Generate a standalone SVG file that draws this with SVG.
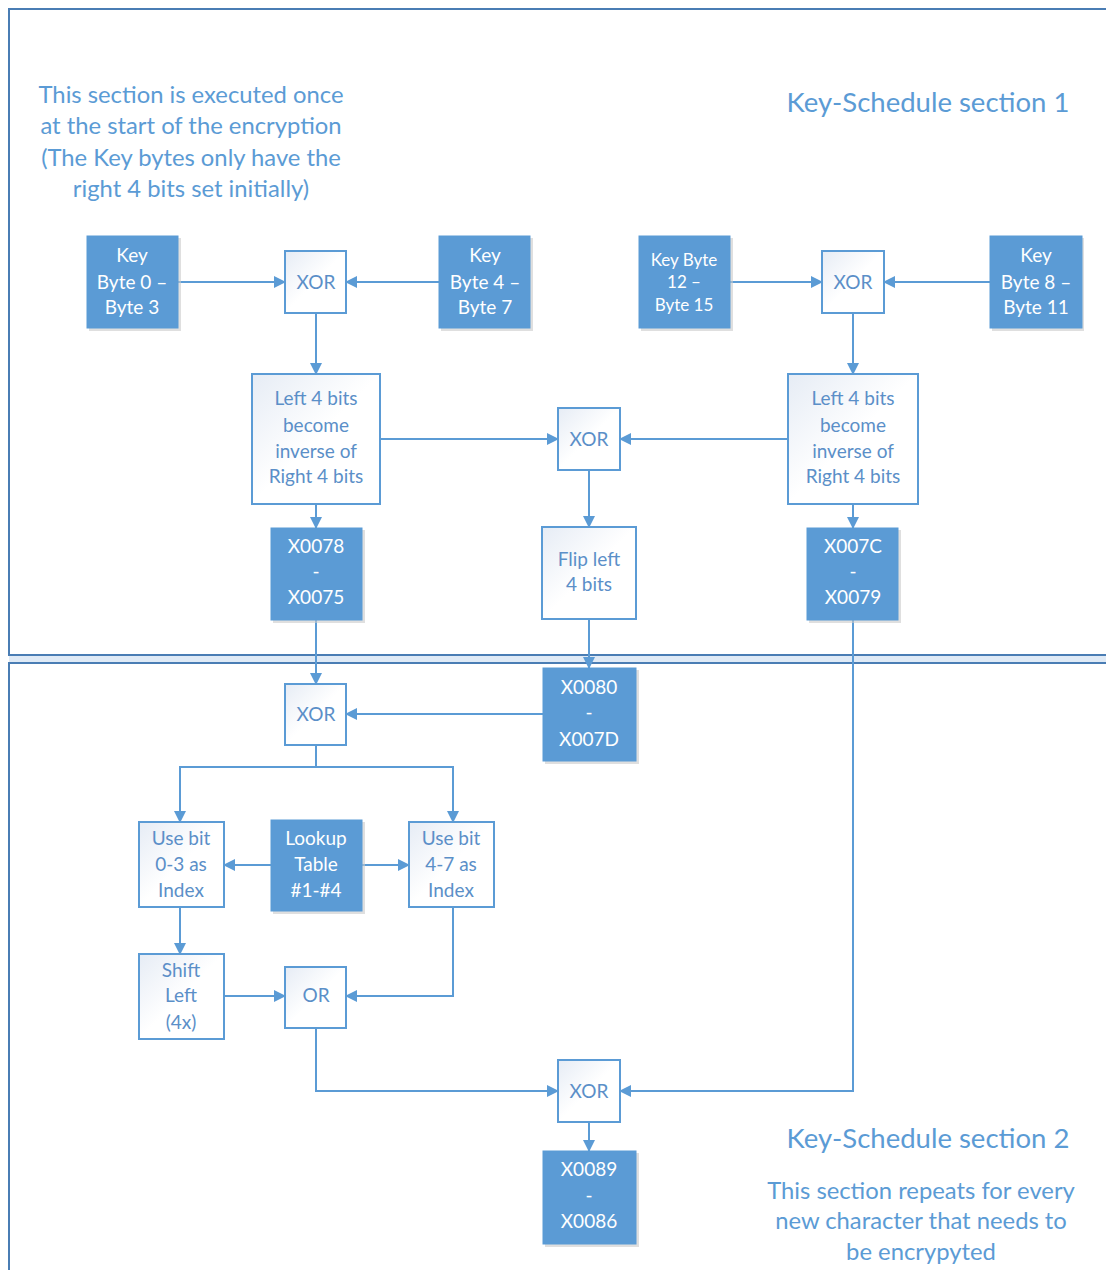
<svg xmlns="http://www.w3.org/2000/svg" width="1106" height="1270" viewBox="0 0 1106 1270">
<style>
  .sec{fill:none;stroke:#4a7db4;stroke-width:2}
  .wb{fill:url(#wg);stroke:#5b9bd5;stroke-width:2}
  .db{fill:#5b9bd5;stroke:#5b9bd5;stroke-width:1}
  .sh{fill:#c9c9c9;opacity:0.6}
  .t{font-family:Lato,"Open Sans","Liberation Sans",sans-serif;text-anchor:middle}
  .tw{fill:#5b8fc8;font-size:19px}
  .td{fill:#ffffff;font-size:19px}
  .ts{fill:#ffffff;font-size:17px}
  .ann{fill:#5b9bd5;font-size:23.8px}
  .ttl{fill:#5b9bd5;font-size:27.5px}
  .c{fill:none;stroke:#5b9bd5;stroke-width:2;marker-end:url(#ah)}
</style>
<defs>
  <linearGradient id="wg" x1="0" y1="0" x2="1" y2="1">
    <stop offset="0" stop-color="#e6ecf5"/>
    <stop offset="0.5" stop-color="#ffffff"/>
    <stop offset="1" stop-color="#ffffff"/>
  </linearGradient>
  <marker id="ah" markerWidth="12" markerHeight="12" refX="11" refY="6" orient="auto" markerUnits="userSpaceOnUse">
    <path d="M0,0 L12,6 L0,12 Z" fill="#5b9bd5"/>
  </marker>
</defs>
<rect x="0" y="0" width="1106" height="1270" fill="#ffffff"/>
<g id="sections">
  <rect x="9" y="656" width="1100" height="7" fill="#dfeaf6"/>
  <rect class="sec" x="9" y="9" width="1110" height="646"/>
  <rect class="sec" x="9" y="663" width="1110" height="620"/>
</g>
<g id="annotations">
  <text class="t ann" x="191" y="103">This section is executed once</text>
  <text class="t ann" x="191" y="134">at the start of the encryption</text>
  <text class="t ann" x="191" y="166">(The Key bytes only have the</text>
  <text class="t ann" x="191" y="197">right 4 bits set initially)</text>
  <text class="t ttl" x="928" y="112">Key-Schedule section 1</text>
  <text class="t ttl" x="928" y="1148">Key-Schedule section 2</text>
  <text class="t ann" x="921" y="1199">This section repeats for every</text>
  <text class="t ann" x="921" y="1229">new character that needs to</text>
  <text class="t ann" x="921" y="1260">be encrypyted</text>
</g>
<g id="connectors">
  <path class="c" d="M178,282 H285"/>
  <path class="c" d="M439,282 H346"/>
  <path class="c" d="M730,282 H822"/>
  <path class="c" d="M990,282 H884"/>
  <path class="c" d="M316,313 V374"/>
  <path class="c" d="M853,313 V374"/>
  <path class="c" d="M380,439 H558"/>
  <path class="c" d="M788,439 H620"/>
  <path class="c" d="M589,470 V527"/>
  <path class="c" d="M316,504 V528"/>
  <path class="c" d="M853,504 V528"/>
  <path class="c" d="M316,620 V684"/>
  <path class="c" d="M589,619 V668"/>
  <path class="c" d="M543,714 H346"/>
  <path class="c" d="M316,745 V767 H180 V822"/>
  <path class="c" d="M316,767 H453 V822"/>
  <path class="c" d="M271,865 H224"/>
  <path class="c" d="M362,865 H409"/>
  <path class="c" d="M180,907 V954"/>
  <path class="c" d="M224,996 H285"/>
  <path class="c" d="M453,907 V996 H346"/>
  <path class="c" d="M316,1028 V1091 H558"/>
  <path class="c" d="M853,620 V1091 H620"/>
  <path class="c" d="M589,1122 V1151"/>
</g>
<g id="key0">
  <rect class="sh" x="89" y="238" width="92" height="93"/>
  <rect class="db" x="87" y="236" width="91" height="92"/>
  <text class="t td" x="132" y="262">Key</text>
  <text class="t td" x="132" y="289">Byte 0 –</text>
  <text class="t td" x="132" y="314">Byte 3</text>
</g>
<g id="xor1">
  <rect class="wb" x="285" y="251" width="61" height="62"/>
  <text class="t tw" x="316" y="289">XOR</text>
</g>
<g id="key4">
  <rect class="sh" x="441" y="238" width="92" height="93"/>
  <rect class="db" x="439" y="236" width="91" height="92"/>
  <text class="t td" x="485" y="262">Key</text>
  <text class="t td" x="485" y="289">Byte 4 –</text>
  <text class="t td" x="485" y="314">Byte 7</text>
</g>
<g id="key12">
  <rect class="sh" x="641" y="238" width="92" height="93"/>
  <rect class="db" x="639" y="236" width="91" height="92"/>
  <text class="t ts" x="684" y="266">Key Byte</text>
  <text class="t ts" x="684" y="288">12 –</text>
  <text class="t ts" x="684" y="311">Byte 15</text>
</g>
<g id="xor2">
  <rect class="wb" x="822" y="251" width="62" height="62"/>
  <text class="t tw" x="853" y="289">XOR</text>
</g>
<g id="key8">
  <rect class="sh" x="992" y="238" width="92" height="93"/>
  <rect class="db" x="990" y="236" width="92" height="92"/>
  <text class="t td" x="1036" y="262">Key</text>
  <text class="t td" x="1036" y="289">Byte 8 –</text>
  <text class="t td" x="1036" y="314">Byte 11</text>
</g>
<g id="left4L">
  <rect class="wb" x="252" y="374" width="128" height="130"/>
  <text class="t tw" x="316" y="405">Left 4 bits</text>
  <text class="t tw" x="316" y="432">become</text>
  <text class="t tw" x="316" y="458">inverse of</text>
  <text class="t tw" x="316" y="483">Right 4 bits</text>
</g>
<g id="xorMid">
  <rect class="wb" x="558" y="408" width="62" height="62"/>
  <text class="t tw" x="589" y="446">XOR</text>
</g>
<g id="left4R">
  <rect class="wb" x="788" y="374" width="130" height="130"/>
  <text class="t tw" x="853" y="405">Left 4 bits</text>
  <text class="t tw" x="853" y="432">become</text>
  <text class="t tw" x="853" y="458">inverse of</text>
  <text class="t tw" x="853" y="483">Right 4 bits</text>
</g>
<g id="x0078">
  <rect class="sh" x="273" y="530" width="92" height="93"/>
  <rect class="db" x="271" y="528" width="91" height="92"/>
  <text class="t td" x="316" y="553">X0078</text>
  <text class="t td" x="316" y="578">-</text>
  <text class="t td" x="316" y="604">X0075</text>
</g>
<g id="flip">
  <rect class="wb" x="542" y="527" width="94" height="92"/>
  <text class="t tw" x="589" y="566">Flip left</text>
  <text class="t tw" x="589" y="591">4 bits</text>
</g>
<g id="x007C">
  <rect class="sh" x="809" y="530" width="92" height="93"/>
  <rect class="db" x="807" y="528" width="91" height="92"/>
  <text class="t td" x="853" y="553">X007C</text>
  <text class="t td" x="853" y="578">-</text>
  <text class="t td" x="853" y="604">X0079</text>
</g>
<g id="xor3">
  <rect class="wb" x="285" y="684" width="61" height="61"/>
  <text class="t tw" x="316" y="721">XOR</text>
</g>
<g id="x0080">
  <rect class="sh" x="545" y="670" width="94" height="94"/>
  <rect class="db" x="543" y="668" width="93" height="93"/>
  <text class="t td" x="589" y="694">X0080</text>
  <text class="t td" x="589" y="719">-</text>
  <text class="t td" x="589" y="746">X007D</text>
</g>
<g id="usebit03">
  <rect class="wb" x="139" y="822" width="85" height="85"/>
  <text class="t tw" x="181" y="845">Use bit</text>
  <text class="t tw" x="181" y="871">0-3 as</text>
  <text class="t tw" x="181" y="897">Index</text>
</g>
<g id="lookup">
  <rect class="sh" x="273" y="822" width="92" height="92"/>
  <rect class="db" x="271" y="820" width="91" height="91"/>
  <text class="t td" x="316" y="845">Lookup</text>
  <text class="t td" x="316" y="871">Table</text>
  <text class="t td" x="316" y="897">#1-#4</text>
</g>
<g id="usebit47">
  <rect class="wb" x="409" y="822" width="85" height="85"/>
  <text class="t tw" x="451" y="845">Use bit</text>
  <text class="t tw" x="451" y="871">4-7 as</text>
  <text class="t tw" x="451" y="897">Index</text>
</g>
<g id="shift">
  <rect class="wb" x="139" y="954" width="85" height="85"/>
  <text class="t tw" x="181" y="977">Shift</text>
  <text class="t tw" x="181" y="1002">Left</text>
  <text class="t tw" x="181" y="1029">(4x)</text>
</g>
<g id="or">
  <rect class="wb" x="285" y="967" width="61" height="61"/>
  <text class="t tw" x="316" y="1002">OR</text>
</g>
<g id="xor4">
  <rect class="wb" x="558" y="1060" width="62" height="62"/>
  <text class="t tw" x="589" y="1098">XOR</text>
</g>
<g id="x0089">
  <rect class="sh" x="545" y="1153" width="94" height="94"/>
  <rect class="db" x="543" y="1151" width="93" height="93"/>
  <text class="t td" x="589" y="1176">X0089</text>
  <text class="t td" x="589" y="1202">-</text>
  <text class="t td" x="589" y="1228">X0086</text>
</g>
</svg>
